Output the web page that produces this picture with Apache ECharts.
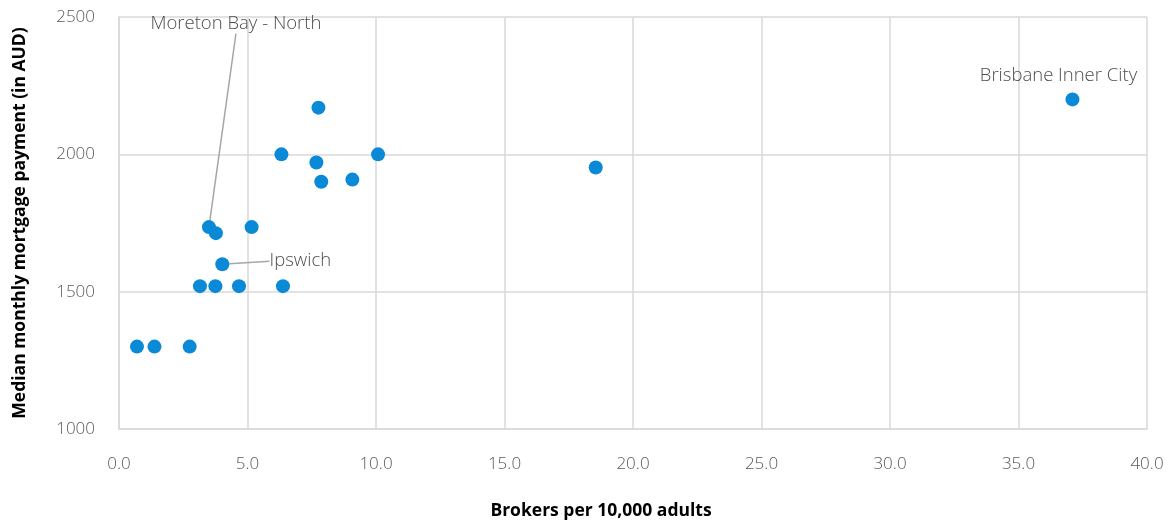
<!DOCTYPE html>
<html>
<head>
<meta charset="utf-8">
<script src="https://cdn.jsdelivr.net/npm/echarts@6/dist/echarts.min.js"></script>
<style>
  html, body { margin: 0; padding: 0; background: #fff; overflow: hidden; }
  #chart { width: 100vw; height: 100vh; }
</style>
</head>
<body>
<div id="chart"></div>
<script>
// Brokers per 10,000 adults vs median monthly mortgage payment, by region
const regions = [
  '', '', '', '', '', '', 'Moreton Bay - North', '', '', 'Ipswich',
  '', '', '', '', '', '', '', '', 'Brisbane Inner City'
];
const brokersPer10k = [
  7.76, 6.32, 10.08, 7.68, 7.87, 9.08, 3.50, 3.77, 5.16, 4.02,
  3.15, 3.75, 4.67, 6.38, 0.70, 1.38, 2.75, 18.55, 37.1
];
const medianMortgage = [
  2170, 2000, 2000, 1970, 1900, 1908, 1735, 1713, 1735, 1600,
  1520, 1520, 1520, 1520, 1300, 1300, 1300, 1952, 2200
];
const xTicks = { min: 0, max: 40, interval: 5 };
const yTicks = { min: 1000, max: 2500, interval: 500 };

// label offsets (px) for the annotated regions
const labelOffsets = {
  'Moreton Bay - North': { dx: 27, dy: -203, line: true },
  'Ipswich': { dx: 78, dy: -3, line: true },
  'Brisbane Inner City': { dx: -14, dy: -24, line: false }
};

const points = brokersPer10k.map((x, i) => {
  const name = regions[i];
  const item = { name: name, value: [x, medianMortgage[i]] };
  if (name) {
    item.label = { show: true, formatter: name };
    item.labelLine = { show: labelOffsets[name].line };
  }
  return item;
});

const gridColor = '#d9d9d9';
const tickFont = { color: '#595959', fontSize: 17, fontFamily: 'Open Sans', fontWeight: 300 };
const titleFont = { color: '#000', fontSize: 17.5, fontWeight: 'bold', fontFamily: 'Open Sans' };

const chart = echarts.init(document.getElementById('chart'), null, { renderer: 'canvas' });
chart.setOption({
  animation: false,
  backgroundColor: '#fff',
  grid: { left: 119, top: 17, width: 1028, height: 412, containLabel: false },
  xAxis: {
    type: 'value',
    min: xTicks.min, max: xTicks.max, interval: xTicks.interval,
    name: 'Brokers per 10,000 adults',
    nameLocation: 'middle',
    nameGap: 73,
    nameTextStyle: Object.assign({ padding: [0, 64, 0, 0] }, titleFont),
    axisLine: { show: true, lineStyle: { color: gridColor, width: 1.5 } },
    axisTick: { show: false },
    splitLine: { show: true, lineStyle: { color: gridColor, width: 1.5 } },
    axisLabel: Object.assign({ margin: 27, formatter: v => v.toFixed(1) }, tickFont)
  },
  yAxis: {
    type: 'value',
    min: yTicks.min, max: yTicks.max, interval: yTicks.interval,
    name: 'Median monthly mortgage payment (in AUD)',
    nameLocation: 'middle',
    nameGap: 90,
    nameTextStyle: titleFont,
    axisLine: { show: true, lineStyle: { color: gridColor, width: 1.5 } },
    axisTick: { show: false },
    splitLine: { show: true, lineStyle: { color: gridColor, width: 1.5 } },
    axisLabel: Object.assign({ margin: 24, formatter: v => String(v) }, tickFont)
  },
  series: [{
    type: 'scatter',
    symbol: 'circle',
    symbolSize: 14,
    itemStyle: { color: '#0a8ad6', opacity: 1 },
    data: points,
    label: {
      show: false,
      position: 'inside',
      color: '#4d4d4d',
      fontSize: 18.5,
      fontFamily: 'Open Sans',
      fontWeight: 300
    },
    labelLine: {
      show: false,
      lineStyle: { color: '#a6a6a6', width: 1.5 }
    },
    labelLayout: function (params) {
      const name = regions[params.dataIndex];
      const off = labelOffsets[name];
      if (!off) return {};
      return { dx: off.dx, dy: off.dy };
    }
  }]
});
</script>
</body>
</html>
